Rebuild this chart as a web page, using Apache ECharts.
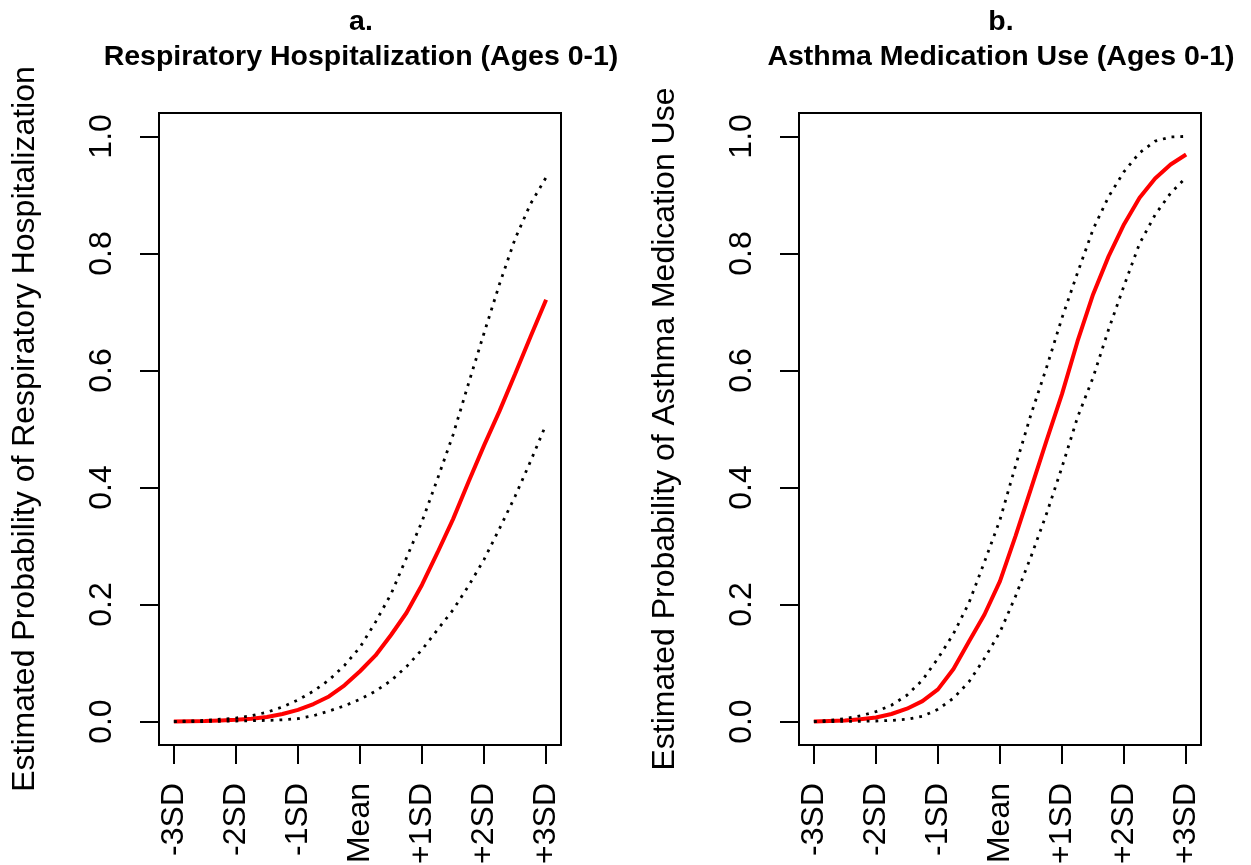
<!DOCTYPE html>
<html>
<head>
<meta charset="utf-8">
<title>Estimated probabilities</title>
<script src="https://cdn.jsdelivr.net/npm/echarts@6/dist/echarts.min.js"></script>
<style>
  html, body { margin: 0; padding: 0; background: #fff; }
  #chart { width: 1251px; height: 865px; }
</style>
</head>
<body>
<div id="chart"></div>
<script>
// exposure level in SD units
var xs = [-3, -2.75, -2.5, -2.25, -2, -1.75, -1.5, -1.25, -1, -0.75, -0.5, -0.25, 0,
  0.25, 0.5, 0.75, 1, 1.25, 1.5, 1.75, 2, 2.25, 2.5, 2.75, 3]
var xTicks = [-3, -2, -1, 0, 1, 2, 3]
var xTickLabels = ['-3SD', '-2SD', '-1SD', 'Mean', '+1SD', '+2SD', '+3SD']
var yTicks = [0, 0.2, 0.4, 0.6, 0.8, 1.0]

// a. respiratory hospitalization
var hospFit = [0, 0.0005, 0.001, 0.002, 0.003, 0.005, 0.008, 0.013, 0.020, 0.030, 0.043, 0.062, 0.086,
  0.113, 0.148, 0.186, 0.234, 0.289, 0.346, 0.410, 0.472, 0.531, 0.594, 0.658, 0.721]
var hospUpper = [0, 0.001, 0.002, 0.004, 0.006, 0.010, 0.016, 0.025, 0.037, 0.052, 0.071, 0.096, 0.127,
  0.170, 0.218, 0.280, 0.342, 0.415, 0.490, 0.578, 0.664, 0.748, 0.825, 0.885, 0.930]
var hospLower = [0, 0, 0.0002, 0.0005, 0.001, 0.0015, 0.002, 0.003, 0.005, 0.010, 0.018, 0.027, 0.038,
  0.052, 0.070, 0.094, 0.123, 0.157, 0.191, 0.232, 0.277, 0.330, 0.385, 0.445, 0.508]

// b. asthma medication use
var medFit = [0, 0.001, 0.002, 0.004, 0.007, 0.013, 0.022, 0.035, 0.055, 0.090, 0.137, 0.183, 0.240,
  0.317, 0.398, 0.480, 0.560, 0.650, 0.730, 0.795, 0.850, 0.895, 0.928, 0.952, 0.969]
var medUpper = [0, 0.002, 0.005, 0.010, 0.017, 0.028, 0.045, 0.071, 0.108, 0.150, 0.203, 0.273, 0.345,
  0.437, 0.525, 0.605, 0.690, 0.767, 0.841, 0.897, 0.940, 0.972, 0.992, 0.999, 1.000]
var medLower = [0, 0, 0.0003, 0.0006, 0.001, 0.002, 0.004, 0.009, 0.021, 0.040, 0.068, 0.108, 0.153,
  0.214, 0.282, 0.355, 0.435, 0.520, 0.588, 0.670, 0.745, 0.817, 0.866, 0.903, 0.930]

var FONT = 'Liberation Sans, Arial, sans-serif'

function pairs (ys) {
  return xs.map(function (x, i) { return [x, ys[i]] })
}

function xAxisFor (idx) {
  return {
    type: 'value',
    gridIndex: idx,
    min: -3.24,
    max: 3.24,
    axisLine: { show: false, onZero: false },
    splitLine: { show: false },
    axisTick: {
      show: true,
      length: 19,
      customValues: xTicks,
      lineStyle: { color: '#000', width: 2 }
    },
    axisLabel: {
      customValues: xTicks,
      rotate: 90,
      margin: 38,
      color: '#000',
      fontSize: 32,
      fontFamily: FONT,
      formatter: function (v) {
        var i = xTicks.indexOf(Math.round(v))
        return i >= 0 ? xTickLabels[i] : ''
      }
    }
  }
}

function yAxisFor (idx, name) {
  return {
    type: 'value',
    gridIndex: idx,
    min: -0.04,
    max: 1.04,
    name: name,
    nameLocation: 'middle',
    nameRotate: 90,
    nameGap: 118,
    nameTextStyle: { color: '#000', fontSize: 32, fontFamily: FONT },
    axisLine: { show: false, onZero: false },
    splitLine: { show: false },
    axisTick: {
      show: true,
      length: 19,
      customValues: yTicks,
      lineStyle: { color: '#000', width: 2 }
    },
    axisLabel: {
      customValues: yTicks,
      rotate: 90,
      margin: 41,
      align: 'center',
      verticalAlign: 'bottom',
      color: '#000',
      fontSize: 32,
      fontFamily: FONT,
      formatter: function (v) { return v.toFixed(1) }
    }
  }
}

function fitLine (idx, ys) {
  return {
    type: 'line',
    xAxisIndex: idx,
    yAxisIndex: idx,
    data: pairs(ys),
    showSymbol: false,
    silent: true,
    lineStyle: { color: '#ff0000', width: 4 }
  }
}

function ciLine (idx, ys) {
  return {
    type: 'line',
    xAxisIndex: idx,
    yAxisIndex: idx,
    data: pairs(ys),
    showSymbol: false,
    silent: true,
    lineStyle: { color: '#000', width: 2.8, type: [2.8, 6] }
  }
}

var titleStyle = { color: '#000', fontSize: 28.5, fontWeight: 'bold', fontFamily: FONT }

var myChart = echarts.init(document.getElementById('chart'))
myChart.setOption({
  animation: false,
  backgroundColor: '#fff',
  title: [
    { text: 'a.', left: 356, top: 3, textAlign: 'center', textStyle: titleStyle },
    { text: 'Respiratory Hospitalization (Ages 0-1)', left: 356, top: 38, textAlign: 'center', textStyle: titleStyle },
    { text: 'b.', left: 996, top: 3, textAlign: 'center', textStyle: titleStyle },
    { text: 'Asthma Medication Use (Ages 0-1)', left: 996, top: 38, textAlign: 'center', textStyle: titleStyle }
  ],
  grid: [
    { left: 159, top: 113, width: 402, height: 632, show: true, borderColor: '#000', borderWidth: 2, outerBoundsMode: 'none' },
    { left: 799, top: 113, width: 402, height: 632, show: true, borderColor: '#000', borderWidth: 2, outerBoundsMode: 'none' }
  ],
  xAxis: [xAxisFor(0), xAxisFor(1)],
  yAxis: [
    yAxisFor(0, 'Estimated Probability of Respiratory Hospitalization'),
    yAxisFor(1, 'Estimated Probability of Asthma Medication Use')
  ],
  series: [
    fitLine(0, hospFit),
    ciLine(0, hospUpper),
    ciLine(0, hospLower),
    fitLine(1, medFit),
    ciLine(1, medUpper),
    ciLine(1, medLower)
  ]
})
</script>
</body>
</html>
